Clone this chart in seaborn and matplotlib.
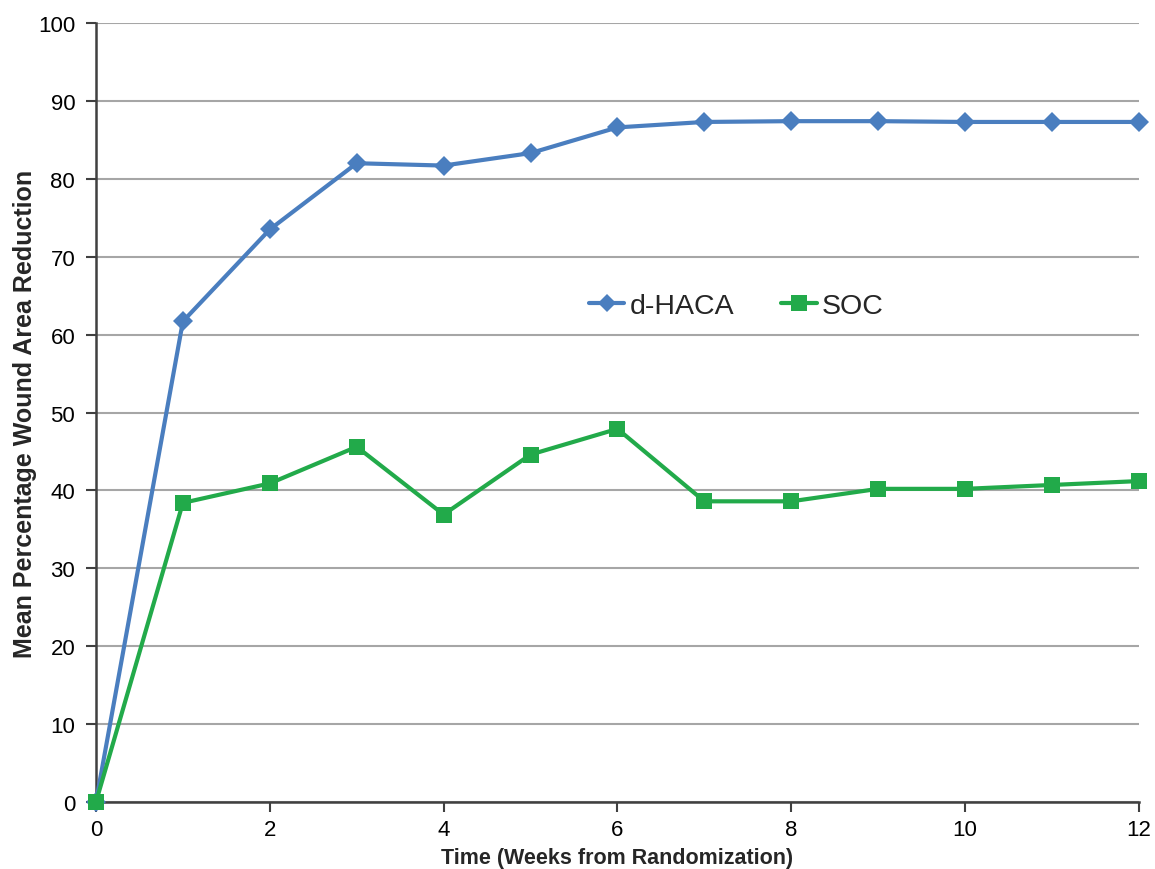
import matplotlib
matplotlib.use("Agg")
import matplotlib.pyplot as plt
import seaborn as sns
import pandas as pd
from matplotlib.lines import Line2D

weeks = list(range(0, 13))
dhaca = [0, 61.7, 73.5, 82.0, 81.7, 83.3, 86.6, 87.3, 87.4, 87.4, 87.3, 87.3, 87.3]
soc = [0, 38.4, 40.9, 45.6, 36.9, 44.6, 47.9, 38.6, 38.6, 40.2, 40.2, 40.7, 41.2]
series_names = ["d-HACA", "SOC"]
x_ticks = [0, 2, 4, 6, 8, 10, 12]
y_ticks = [0, 10, 20, 30, 40, 50, 60, 70, 80, 90, 100]

df = pd.DataFrame({
    "week": weeks * 2,
    "value": dhaca + soc,
    "group": [series_names[0]] * len(weeks) + [series_names[1]] * len(weeks),
})

sns.set_theme(style="white")
plt.rcParams["font.family"] = ["Liberation Sans", "DejaVu Sans"]

fig = plt.figure(figsize=(11.55, 8.7), dpi=100)
ax = fig.add_axes([0.0831, 0.0770, 0.9030, 0.8954])

palette = {"d-HACA": "#4A7EBF", "SOC": "#22AA4A"}
markers = {"d-HACA": "D", "SOC": "s"}
sizes_ms = {"d-HACA": 10, "SOC": 12}

sns.lineplot(data=df, x="week", y="value", hue="group", style="group",
             markers=markers, dashes=False, palette=palette, linewidth=3,
             markersize=11, markeredgewidth=0, ax=ax, legend=False, zorder=3)
for line, name in zip(ax.lines, series_names):
    line.set_markersize(sizes_ms[name])
    line.set_clip_on(False)

ax.set_xlim(0, 12)
ax.set_ylim(0, 100)
ax.set_xticks(x_ticks)
ax.set_yticks(y_ticks)
ax.yaxis.grid(True, color="#A6A6A6", linewidth=1.5, zorder=0)
ax.xaxis.grid(False)
ax.set_axisbelow(True)
for s in ["top", "right"]:
    ax.spines[s].set_visible(False)
for s in ["left", "bottom"]:
    ax.spines[s].set_color("#404040")
    ax.spines[s].set_linewidth(1.8)
    ax.spines[s].set_zorder(2)
ax.tick_params(axis="both", which="major", direction="out", length=7, width=1.5,
               color="#404040", labelsize=16, labelcolor="black")
ax.tick_params(axis="y", pad=8)
ax.tick_params(axis="x", pad=5)
ax.tick_params(left=True, bottom=True)

ax.set_xlabel("Time (Weeks from Randomization)", fontsize=15.5, fontweight="bold", labelpad=5)
ax.set_ylabel("Mean Percentage Wound Area Reduction", fontsize=18, fontweight="bold", labelpad=1)

handles = [Line2D([0], [0], color=palette[n], marker=markers[n], linewidth=3,
                  markersize=sizes_ms[n] - 1, markeredgewidth=0) for n in series_names]
ax.legend(handles, series_names, loc="center", bbox_to_anchor=(0.614, 0.637),
          ncol=2, frameon=False, fontsize=20.5, handlelength=1.25, columnspacing=1.65,
          handletextpad=0.18)

fig.savefig("out.png", dpi=100)
